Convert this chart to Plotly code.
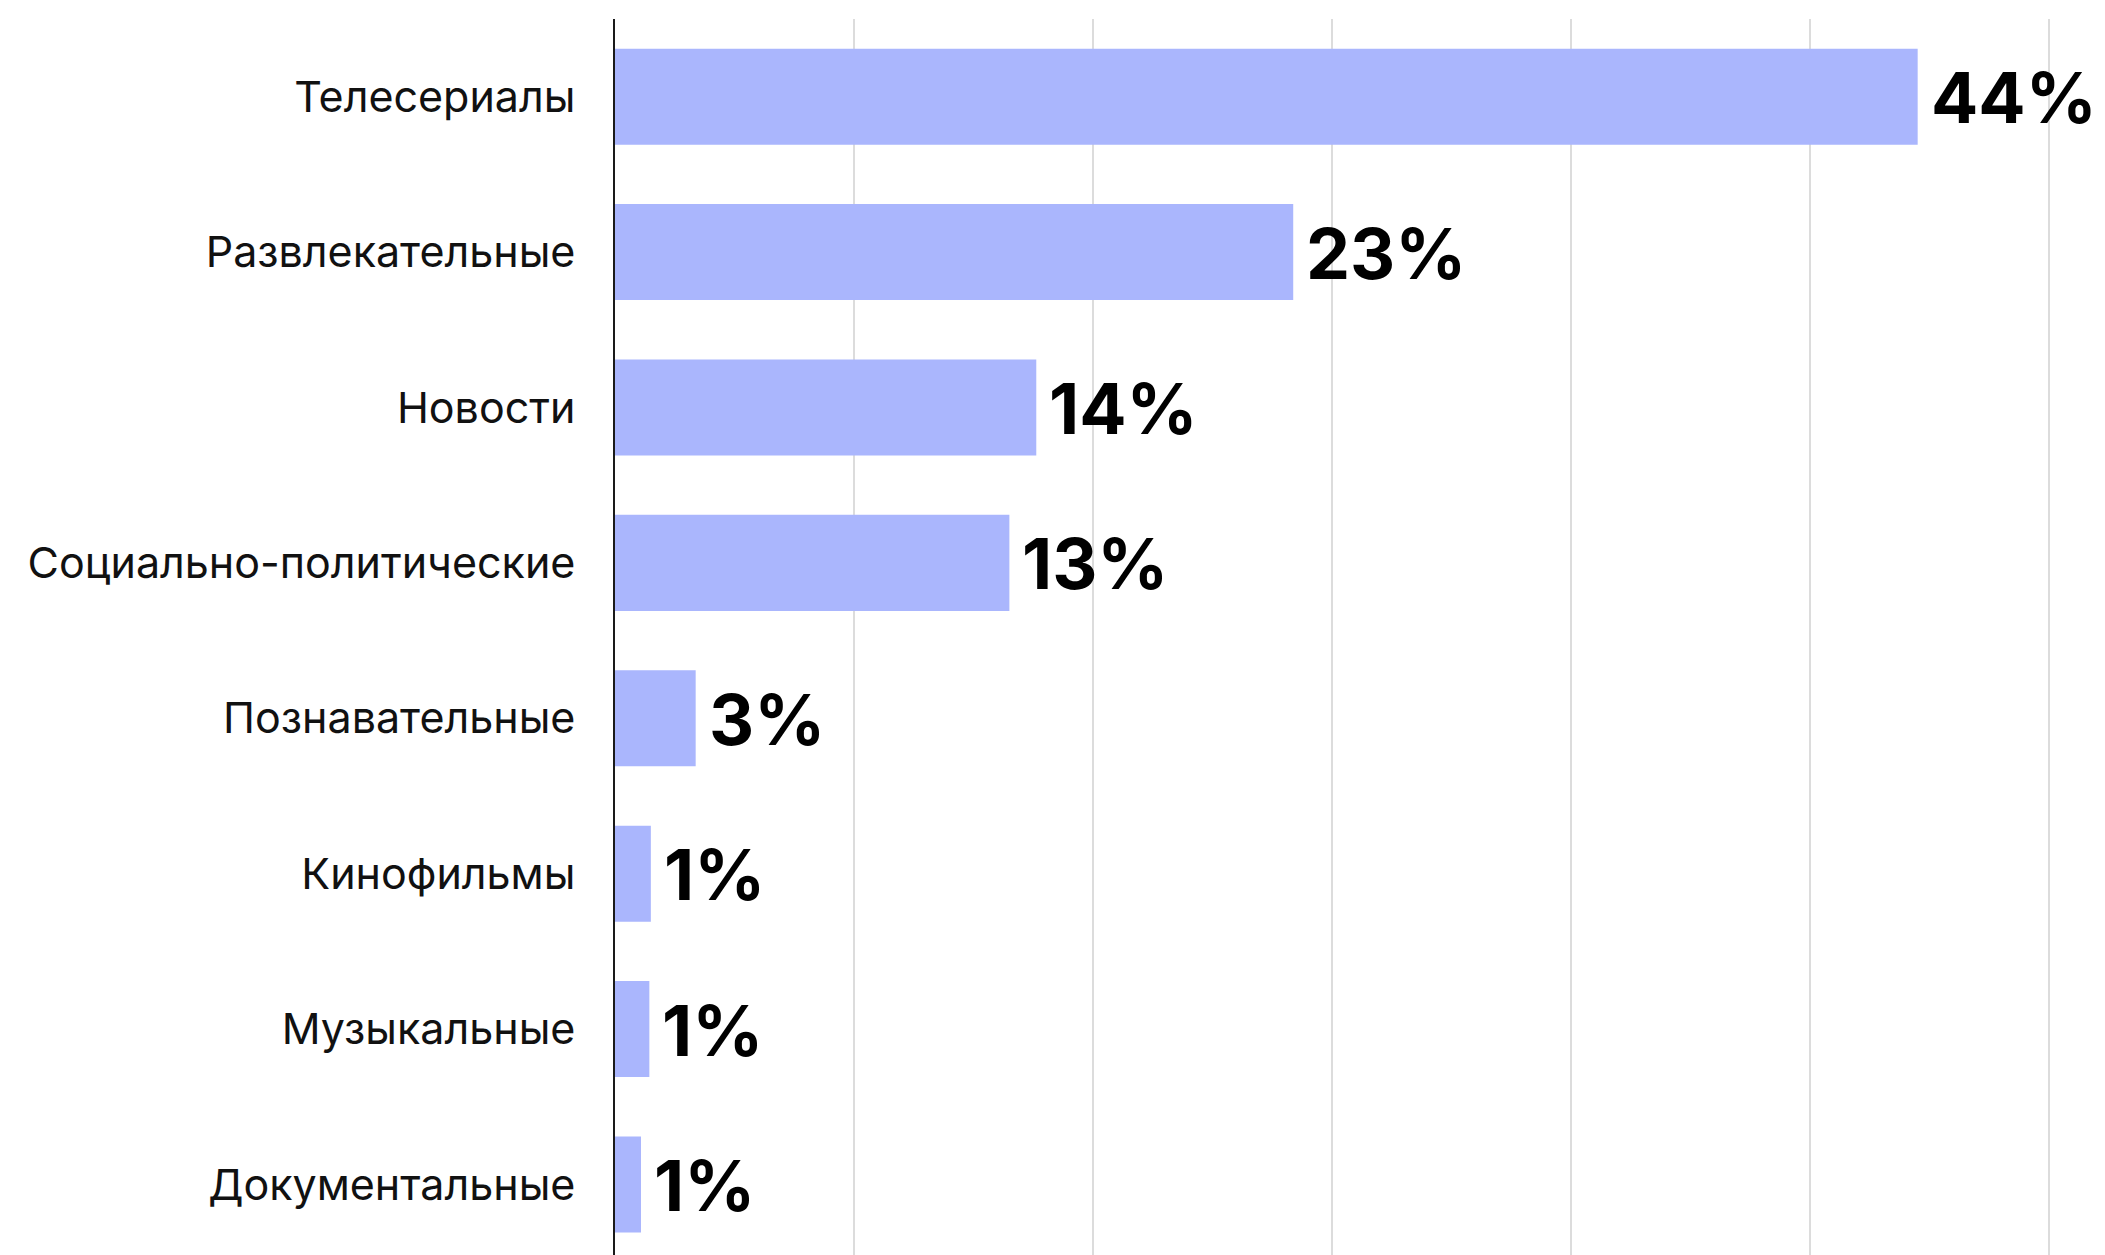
import plotly.graph_objects as go

categories = ["Телесериалы", "Развлекательные", "Новости", "Социально-политические",
              "Познавательные", "Кинофильмы", "Музыкальные", "Документальные"]
values = [43.6, 22.7, 14.1, 13.2, 2.7, 1.2, 1.15, 0.87]
labels = ["44%", "23%", "14%", "13%", "3%", "1%", "1%", "1%"]

BAR = "#AAB6FD"

fig = go.Figure()
fig.add_trace(go.Bar(
    x=values, y=categories, orientation="h",
    marker=dict(color=BAR, line=dict(width=0)),
    width=0.618, hoverinfo="skip",
))

for c, v, t in zip(categories, values, labels):
    fig.add_annotation(
        x=v, y=c, text=t, showarrow=False, xanchor="left", yanchor="middle",
        xshift=11, yshift=-1,
        font=dict(family="Inter", size=70, color="#000000", weight="bold"),
    )

fig.update_layout(
    width=2097, height=1247,
    margin=dict(l=607, r=0, t=11, b=0, pad=0),
    paper_bgcolor="white", plot_bgcolor="white",
    showlegend=False,
    bargap=0.382,
    xaxis=dict(
        range=[0, 49.87], dtick=8, tick0=0, showticklabels=False,
        showgrid=True, gridcolor="#DCDCDC", gridwidth=2,
        zeroline=False, showline=False, ticks="",
    ),
    yaxis=dict(
        categoryorder="array", categoryarray=categories,
        range=[7.454, -0.5], showgrid=False, zeroline=False,
        showline=True, linecolor="#1a1a1a", linewidth=2,
        ticks="", ticklabelstandoff=29,
        tickfont=dict(family="Inter", size=43, color="#111111"),
    ),
)

fig.write_html("out.html")
